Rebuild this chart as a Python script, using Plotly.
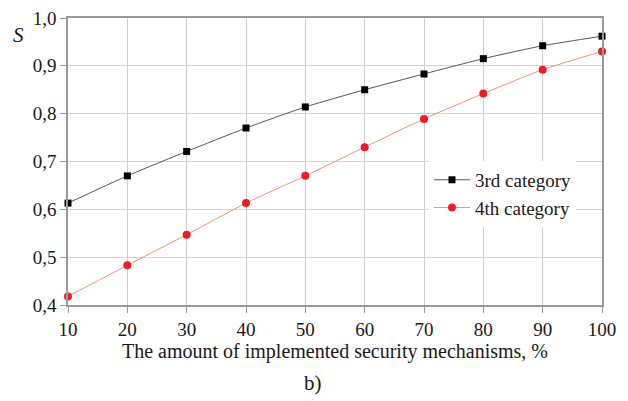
import plotly.graph_objects as go

x_vals = [10, 20, 30, 40, 50, 60, 70, 80, 90, 100]
cat3 = [0.613, 0.670, 0.721, 0.770, 0.814, 0.850, 0.883, 0.915, 0.942, 0.962]
cat4 = [0.418, 0.483, 0.547, 0.613, 0.670, 0.730, 0.789, 0.842, 0.892, 0.930]
x_ticks = [10, 20, 30, 40, 50, 60, 70, 80, 90, 100]
y_ticks = [0.4, 0.5, 0.6, 0.7, 0.8, 0.9, 1.0]

FONT = "Liberation Serif"
TXT = "#1a1a1a"

fig = go.Figure()
fig.add_trace(go.Scatter(
    x=x_vals, y=cat3, name="3rd category", mode="lines+markers",
    line=dict(color="#444444", width=0.9, shape="spline", smoothing=0.6),
    marker=dict(symbol="square", size=7, color="#000000"),
    cliponaxis=False))
fig.add_trace(go.Scatter(
    x=x_vals, y=cat4, name="4th category", mode="lines+markers",
    line=dict(color="#f5907a", width=1, shape="spline", smoothing=0.6),
    marker=dict(symbol="circle", size=8, color="#ee1c24"),
    cliponaxis=False))

fig.update_layout(
    width=620, height=393,
    margin=dict(l=60, r=26, t=10, b=96, autoexpand=False),
    paper_bgcolor="white", plot_bgcolor="white",
    separators=", ",
    font=dict(family=FONT, size=19, color=TXT),
    showlegend=True,
    legend=dict(x=0.676, y=0.502, xanchor="left", yanchor="top",
                bgcolor="white", borderwidth=0,
                font=dict(family=FONT, size=19, color=TXT),
                tracegroupgap=0, itemwidth=36),
    xaxis=dict(range=[10, 100], tickvals=x_ticks, tickformat="d",
               tickfont=dict(family=FONT, size=19, color=TXT),
               ticklabeloverflow="allow",
               showgrid=True, gridcolor="#d4cccc", gridwidth=1,
               showline=True, linecolor="#999999", linewidth=1.5, mirror=True,
               ticks="outside", ticklen=6, tickcolor="#999999",
               zeroline=False, automargin=False,
               title=dict(text="The amount of implemented security mechanisms, %",
                          font=dict(family=FONT, size=20, color=TXT), standoff=2)),
    yaxis=dict(range=[0.4, 1.0], tickvals=y_ticks, tickformat=".1f",
               tickfont=dict(family=FONT, size=19, color=TXT),
               ticklabeloverflow="allow",
               showgrid=True, gridcolor="#cfd4d8", gridwidth=1,
               showline=True, linecolor="#999999", linewidth=1.5, mirror=True,
               ticks="outside", ticklen=6, tickcolor="#999999",
               zeroline=False, automargin=False),
)

fig.add_annotation(text="<i>S</i>", xref="paper", yref="paper", x=-0.092, y=0.94,
                   xanchor="center", yanchor="middle", showarrow=False,
                   font=dict(family=FONT, size=21, color=TXT))
fig.add_annotation(text="b)", xref="paper", yref="paper", x=0.459, y=-0.272,
                   xanchor="center", yanchor="middle", showarrow=False,
                   font=dict(family=FONT, size=21, color=TXT))

fig.write_html("out.html")
